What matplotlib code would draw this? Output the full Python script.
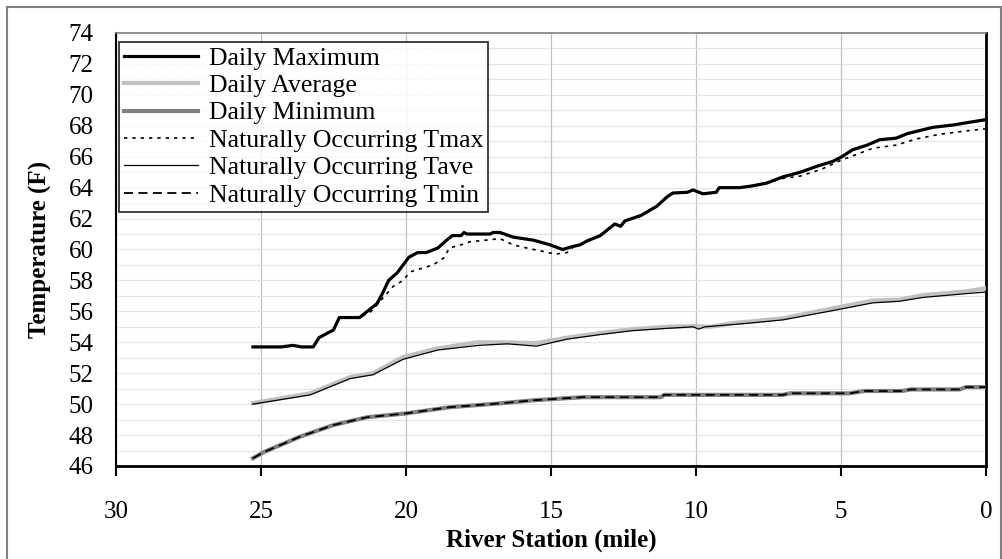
import matplotlib
matplotlib.use("Agg")
import matplotlib.pyplot as plt
from matplotlib.lines import Line2D

plt.rcParams["font.family"] = ["Liberation Serif", "DejaVu Serif"]

# river station (mile) and temperature (F)
max_mile = [25.28, 24.3, 23.9, 23.6, 23.2, 23.0, 22.7, 22.5, 22.3, 21.6, 21.4, 21.2, 21.0,
            20.8, 20.6, 20.3, 19.9, 19.6, 19.3, 18.9, 18.6, 18.4, 18.1, 18.0, 17.9, 17.1,
            17.0, 16.76, 16.3, 15.6, 15.03, 14.6, 14.24, 14.0, 13.76, 13.3, 12.8, 12.6,
            12.45, 11.9, 11.35, 11.0, 10.8, 10.3, 10.1, 9.76, 9.3, 9.2, 8.5, 8.1, 7.55,
            7.0, 6.4, 5.8, 5.28, 4.97, 4.6, 4.1, 3.66, 3.1, 2.7, 1.83, 1.14, 0.66, 0.0]
max_temp = [53.7, 53.7, 53.8, 53.7, 53.7, 54.3, 54.6, 54.8, 55.6, 55.6, 55.9, 56.2, 56.5,
            57.2, 58.0, 58.5, 59.5, 59.8, 59.8, 60.1, 60.6, 60.9, 60.9, 61.1, 61.0, 61.0,
            61.1, 61.1, 60.8, 60.6, 60.3, 60.0, 60.2, 60.3, 60.55, 60.9, 61.65, 61.5,
            61.85, 62.2, 62.8, 63.4, 63.65, 63.7, 63.85, 63.6, 63.7, 64.0, 64.0, 64.1, 64.3,
            64.7, 65.0, 65.4, 65.7, 66.0, 66.45, 66.75, 67.1, 67.2, 67.5, 67.9, 68.05, 68.2, 68.4]

nat_max_mile = [25.28, 24.3, 23.9, 23.6, 23.2, 23.0, 22.7, 22.5, 22.3, 21.6, 21.2, 20.45,
                20.1, 19.86, 19.07, 18.7, 18.5, 18.1, 17.8, 16.76, 16.3, 15.96, 15.6, 15.2,
                14.86, 14.45, 14.2, 14.0, 13.76, 13.3, 12.8, 12.6, 12.45, 11.9, 11.35, 11.0,
                10.8, 10.3, 10.1, 9.76, 9.3, 9.2, 8.5, 8.1, 7.55, 7.0, 6.4, 5.66, 4.97, 4.6,
                3.9, 3.1, 2.4, 1.6, 0.55, 0.0]
nat_max_temp = [53.7, 53.7, 53.8, 53.7, 53.7, 54.3, 54.6, 54.8, 55.6, 55.6, 56.0, 57.6,
                58.0, 58.55, 59.0, 59.45, 60.1, 60.3, 60.5, 60.7, 60.3, 60.15, 60.0, 59.85,
                59.7, 59.8, 60.2, 60.3, 60.55, 60.9, 61.65, 61.5, 61.85, 62.2, 62.8, 63.4,
                63.65, 63.7, 63.85, 63.6, 63.7, 64.0, 64.0, 64.1, 64.3, 64.6, 64.75, 65.2,
                65.8, 66.05, 66.55, 66.75, 67.15, 67.45, 67.7, 67.8]

ave_mile = [25.28, 23.3, 21.93, 21.14, 20.1, 18.93, 17.55, 16.66, 15.5, 14.45, 13.3, 12.2,
            11.0, 10.1, 9.5, 8.7, 8.1, 7.0, 5.28, 3.9, 3.0, 2.17, 0.66, 0.0]
ave_temp = [50.07, 50.7, 51.75, 52.0, 53.05, 53.6, 54.0, 54.0, 53.95, 54.3, 54.6, 54.85,
            55.0, 55.05, 55.0, 55.25, 55.35, 55.55, 56.2, 56.7, 56.75, 57.05, 57.3, 57.5]

nat_ave_mile = [25.28, 23.3, 21.93, 21.14, 20.1, 18.9, 17.5, 16.5, 15.5, 14.45, 13.3, 12.2,
                11.0, 10.1, 9.9, 9.7, 8.7, 8.1, 7.0, 5.28, 3.9, 3.0, 2.17, 0.66, 0.0]
nat_ave_temp = [50.0, 50.6, 51.65, 51.9, 52.9, 53.5, 53.8, 53.9, 53.75, 54.2, 54.5, 54.75,
                54.9, 55.0, 54.85, 55.0, 55.15, 55.25, 55.45, 56.05, 56.55, 56.65, 56.9,
                57.15, 57.25]

min_mile = [25.28, 24.9, 23.65, 22.5, 21.35, 20.0, 18.5, 16.76, 15.6, 13.9, 13.0, 11.2, 11.1,
            7.0, 6.76, 4.7, 4.2, 2.9, 2.6, 0.9, 0.7, 0.0]
min_temp = [46.5, 46.9, 47.9, 48.65, 49.15, 49.4, 49.8, 50.05, 50.25, 50.45, 50.45, 50.45,
            50.6, 50.6, 50.7, 50.7, 50.85, 50.85, 50.95, 50.95, 51.1, 51.1]

nat_min_mile = min_mile
nat_min_temp = min_temp

fig = plt.figure(figsize=(10.03, 5.59), dpi=100)
ax = fig.add_axes([116 / 1003, 1 - 466 / 559, 870 / 1003, 433 / 559])

ax.plot(max_mile, max_temp, color="black", lw=2.3, label="Daily Maximum", zorder=5)
ax.plot(ave_mile, ave_temp, color="#c0c0c0", lw=3.0, label="Daily Average", zorder=3)
ax.plot(min_mile, min_temp, color="#808080", lw=3.0, label="Daily Minimum", zorder=3)
ax.plot(nat_max_mile, nat_max_temp, color="black", lw=1.2, ls=(0, (2, 3)),
        label="Naturally Occurring Tmax", zorder=4)
ax.plot(nat_ave_mile, nat_ave_temp, color="black", lw=0.9,
        label="Naturally Occurring Tave", zorder=4)
ax.plot(nat_min_mile, nat_min_temp, color="black", lw=1.3, ls=(0, (5, 3)),
        label="Naturally Occurring Tmin", zorder=4)

ax.set_xlim(30, 0)
ax.set_ylim(46, 74)
ax.set_xticks(range(30, -1, -5))
ax.set_yticks(range(46, 75, 2))
ax.set_yticks(range(46, 75, 1), minor=True)
ax.grid(axis="y", which="both", color="#d9d9d9", lw=0.9, ls=(0, (1, 0.5)), zorder=0)
ax.grid(axis="x", which="major", color="#c0c0c0", lw=0.9, zorder=0)

ax.tick_params(axis="x", direction="out", length=7, width=1.5, pad=18, labelsize=18)
ax.tick_params(axis="y", which="both", length=0, pad=16, labelsize=18)

ax.set_xlabel("River Station (mile)", fontsize=18, fontweight="bold", labelpad=4)
ax.set_ylabel("Temperature (F)", fontsize=18, fontweight="bold", labelpad=12)

for side in ["left", "bottom", "right"]:
    ax.spines[side].set_color("black")
ax.spines["left"].set_linewidth(1.5)
ax.spines["bottom"].set_linewidth(2.0)
ax.spines["right"].set_linewidth(2.0)
ax.spines["top"].set_color("#808080")
ax.spines["top"].set_linewidth(1.2)

leg = ax.legend(loc="upper left", bbox_to_anchor=(0.003, 0.98), fontsize=18.5,
                frameon=True, fancybox=False, handlelength=2.9, labelspacing=0.17,
                borderpad=0.2, handletextpad=0.4, borderaxespad=0)
leg.get_frame().set_edgecolor("black")
leg.get_frame().set_linewidth(1.3)
leg.set_zorder(10)

# outer chart border
for xs, ys in [([7, 7], [7, 559]), ([7, 1001], [7, 7]), ([1001, 1001], [7, 559])]:
    fig.add_artist(Line2D([x / 1003 for x in xs], [1 - y / 559 for y in ys],
                          color="#808080", lw=1.5))

fig.savefig("out.png", dpi=100)
